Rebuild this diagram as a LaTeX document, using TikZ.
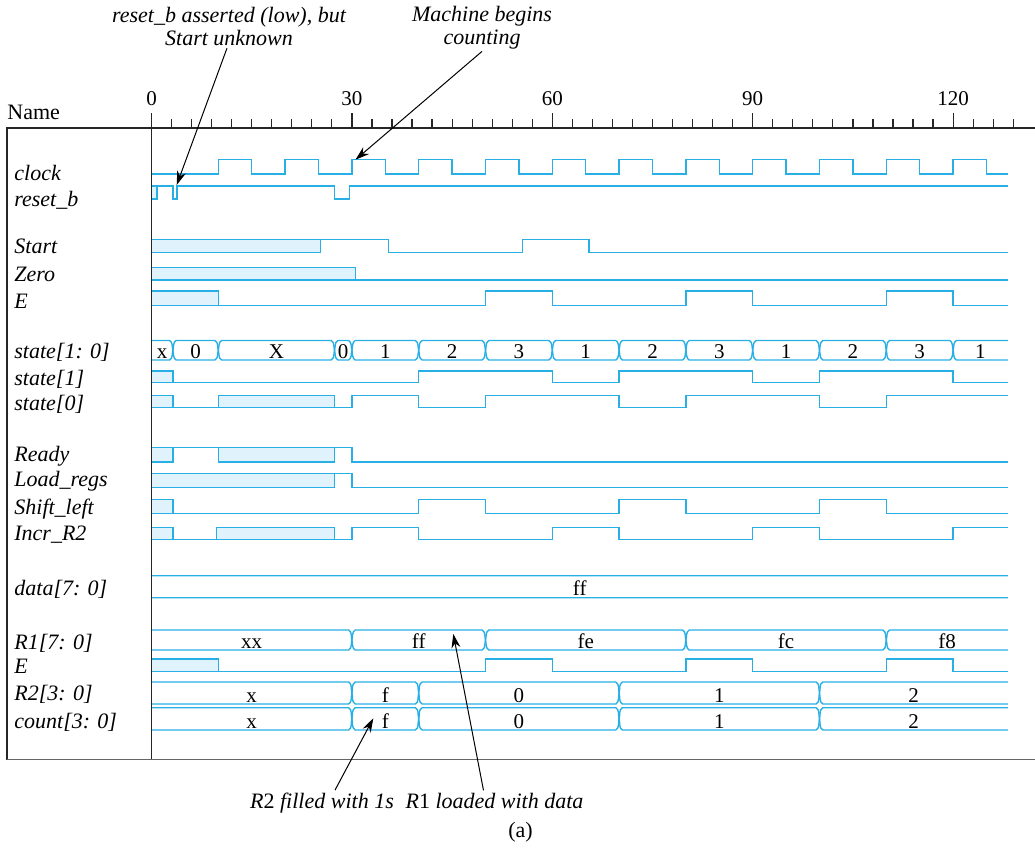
\documentclass[tikz,border=0pt]{standalone}
\usepackage{fontspec}
\setmainfont{Liberation Serif}
\usetikzlibrary{arrows.meta}
\definecolor{wavecol}{RGB}{40,175,230}
\definecolor{xfill}{RGB}{224,243,252}
\tikzset{
  wave/.style={draw=wavecol, line width=0.7pt},
  xbox/.style={wave, fill=xfill},
  frame/.style={draw=black!85, line width=0.6pt},
  sigl/.style={anchor=base west, font=\fontsize{11}{12}\selectfont\itshape, inner sep=0pt},
  bval/.style={anchor=base, font=\fontsize{10.5}{12}\selectfont, inner sep=0pt},
  tnum/.style={anchor=base, font=\fontsize{10.5}{12}\selectfont, inner sep=0pt},
  note/.style={font=\fontsize{11}{11.5}\selectfont\itshape, align=center, inner sep=1pt},
  callout/.style={draw=black, line width=0.5pt, -{Stealth[length=7pt,width=4.5pt]}},
}
% one bus value: start, end, top, bottom, value
\newcommand{\busseg}[5]{%
  \pgfmathsetmacro{\busmid}{(#3+#4)/2}%
  \pgfmathsetmacro{\buslab}{(max(#1,0)+min(#2,128.2))/2}%
  \draw[wave] (#1,\busmid) to[out=75,in=-150] ({#1+0.5},#3) -- ({#2-0.5},#3)
    to[out=-30,in=105] (#2,\busmid) to[out=-105,in=30] ({#2-0.5},#4)
    -- ({#1+0.5},#4) to[out=150,in=-75] (#1,\busmid);
  \node[bval] at (\buslab,{#4-2}) {#5};}
\newcommand{\bus}[3]{\foreach \segA/\segB/\segV in {#3} {\busseg{\segA}{\segB}{#1}{#2}{\segV}}}

\begin{document}
\begin{tikzpicture}[x=0.5pt,y=-0.5pt]
  \useasboundingbox (0,0) rectangle (1035,848);

  % signal names
  \node[anchor=base west, font=\fontsize{11}{12}\selectfont, inner sep=0pt] (name) at (7,119) {Name};
  \foreach \lab/\yb [count=\i] in {clock/180.7, reset\_b/206.5, Start/253, Zero/281, E/308,
      state[1: 0]/358, state[1]/385.7, state[0]/410.7, Ready/461.7, Load\_regs/486.7,
      Shift\_left/514, Incr\_R2/540, data[7: 0]/595, R1[7: 0]/649.3, E/673.3,
      R2[3: 0]/700, count[3: 0]/728.3}
    \node[sigl] (sig\i) at (14,\yb) {\lab};

  \begin{scope}[xshift=75.75pt, x=3.34pt]
    % time axis
    \foreach \t in {0,3,...,129} \draw[frame] (\t,119) -- (\t,128);
    \foreach \t in {0,30,...,120} {
      \draw[frame] (\t,113) -- (\t,128);
      \node[tnum] (tk\t) at (\t,105.5) {\t};
    }

    % clock, reset_b
    \draw[wave] (0,174) \foreach \k in {10,20,...,120} { -| (\k,159.7) -| (\k+5,174) } -- (128.2,174);
    \draw[xbox] (0,186) rectangle (0.8,199);
    \draw[wave] (0.8,186) -| (3.2,199) -| (3.8,186) -| (27.4,199) -| (29.6,186) -- (128.2,186);

    % Start, Zero, E
    \draw[xbox] (0,239.3) rectangle (25.3,252.3);
    \draw[wave] (25.3,239.3) -| (35.5,252.3) -| (55.5,239.3) -| (65.5,252.3) -- (128.2,252.3);
    \draw[xbox] (0,267.7) rectangle (30.5,280);
    \draw[wave] (30.5,280) -- (128.2,280);
    \draw[xbox] (0,291) rectangle (10,305.7);
    \draw[wave] (10,305.7) -| (50,291) -| (60,305.7) -| (80,291) -| (90,305.7) -| (110,291) -| (120,305.7) -- (128.2,305.7);

    % state
    \draw[xbox] (0,371) rectangle (3.2,382.3);
    \draw[wave] (3.2,382.3) -| (40,371) -| (60,382.3) -| (70,371) -| (90,382.3) -| (100,371) -| (120,382.3) -- (128.2,382.3);
    \draw[xbox] (0,395.7) rectangle (3.2,407.7);
    \draw[xbox] (10,395.7) rectangle (27.4,407.7);
    \draw[wave] (3.2,407.7) -- (10,407.7);
    \draw[wave] (27.4,407.7) -| (30,395.7) -| (40,407.7) -| (50,395.7) -| (70,407.7) -| (80,395.7) -| (100,407.7) -| (110,395.7) -- (128.2,395.7);

    % control outputs
    \draw[xbox] (0,447.7) rectangle (3.2,462);
    \draw[xbox] (10,447.7) rectangle (27.4,462);
    \draw[wave] (3.2,447.7) -- (10,447.7);
    \draw[wave] (27.4,447.7) -| (30,462) -- (128.2,462);
    \draw[xbox] (0,473.3) rectangle (27.4,487.7);
    \draw[wave] (27.4,473.3) -| (30,487.7) -- (128.2,487.7);
    \draw[xbox] (0,499.7) rectangle (3.2,513.7);
    \draw[wave] (3.2,513.7) -| (40,499.7) -| (50,513.7) -| (70,499.7) -| (80,513.7) -| (100,499.7) -| (110,513.7) -- (128.2,513.7);
    \draw[xbox] (0,527.7) rectangle (3.2,539.3);
    \draw[xbox] (9.7,527.7) rectangle (27.4,539.3);
    \draw[wave] (3.2,539.3) -- (9.7,539.3);
    \draw[wave] (27.4,539.3) -| (30,527.7) -| (40,539.3) -| (60,527.7) -| (70,539.3) -| (90,527.7) -| (100,539.3) -| (120,527.7) -- (128.2,527.7);

    % second E
    \draw[xbox] (0,659) rectangle (10,671.7);
    \draw[wave] (10,671.7) -| (50,659) -| (60,671.7) -| (80,659) -| (90,671.7) -| (110,659) -| (120,671.7) -- (128.2,671.7);

    % buses
    \begin{scope}
      \clip (0,100) rectangle (128.2,760);
      \bus{340.5}{360}{-1/3.2/x, 3.2/10/0, 10/27.4/X, 27.4/30/0, 30/40/1, 40/50/2, 50/60/3,
        60/70/1, 70/80/2, 80/90/3, 90/100/1, 100/110/2, 110/120/3, 120/130/1}
      \bus{575.7}{597.7}{-1/130/ff}
      \bus{630}{650}{-1/30/xx, 30/50/ff, 50/80/fe, 80/110/fc, 110/130/f8}
      \bus{682}{704}{-1/30/x, 30/40/f, 40/70/0, 70/100/1, 100/130/2}
      \bus{707.7}{730}{-1/30/x, 30/40/f, 40/70/0, 70/100/1, 100/130/2}
    \end{scope}

    \draw[frame] (0,113) -- (0,760);
  \end{scope}

  % frame
  \draw[frame] (7,760) -- (7,128) -- (1035,128);
  \draw[frame, draw=black!60] (7,759.5) -- (1035,759.5);

  % notes
  \node[note] (resetnote) at (229,26.5) {reset\_b asserted (low), but\\Start unknown};
  \node[note] (countnote) at (482,27.5) {Machine begins\\counting};
  \node[note, anchor=base] (r2note) at (322,808) {R\textup{2} filled with 1s};
  \node[note, anchor=base] (r1note) at (494.5,808) {R\textup{1} loaded with data};
  \node[anchor=base, font=\fontsize{11}{12}\selectfont, inner sep=0pt] (caption) at (520.5,837) {(a)};

  \coordinate (resettip) at (176.7,185);
  \coordinate (clocktip) at (355.5,159.7);
  \coordinate (r2tip) at (373.3,718.3);
  \coordinate (r1tip) at (453.3,634);
  \draw[callout] ([xshift=-1pt]resetnote.south) -- (resettip);
  \draw[callout] (countnote.south) -- (clocktip);
  \draw[callout] ([xshift=6.5pt]r2note.north) -- (r2tip);
  \draw[callout] ([xshift=-5.5pt]r1note.north) -- (r1tip);
\end{tikzpicture}
\end{document}
